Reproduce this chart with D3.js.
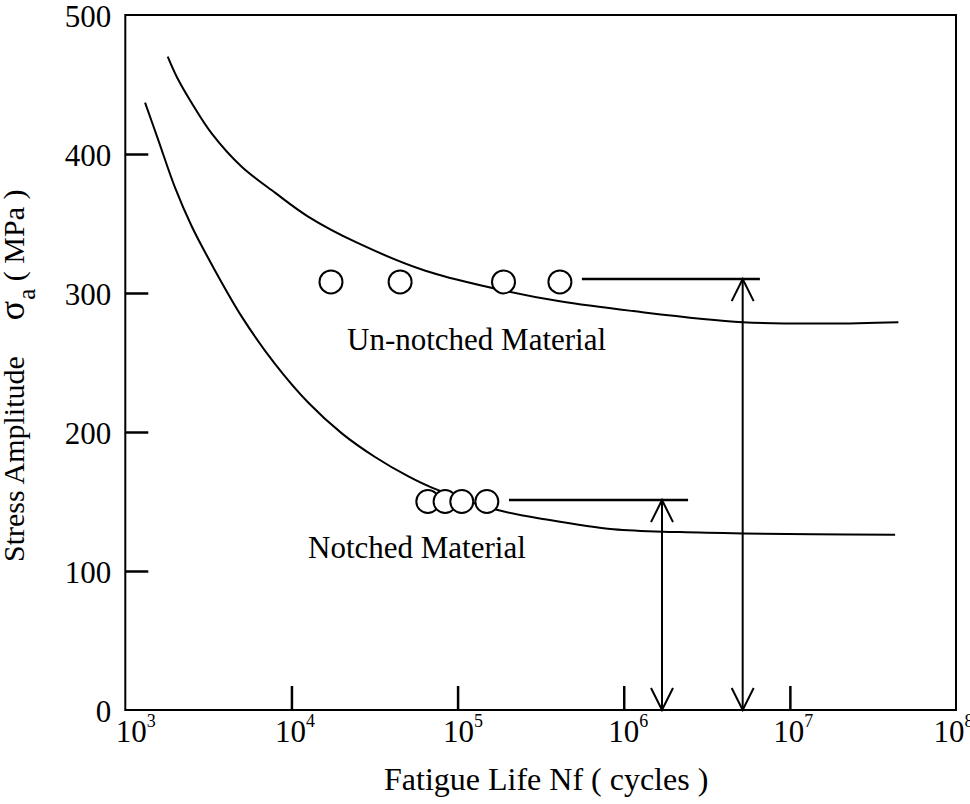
<!DOCTYPE html>
<html>
<head>
<meta charset="utf-8">
<script src="https://cdn.jsdelivr.net/npm/d3@7"></script>
<style>
  body { margin: 0; background: #fff; }
  text { font-family: "Liberation Serif", "Times New Roman", serif; fill: #000; }
</style>
</head>
<body>
<div id="chart"></div>
<script>
// ---- data (N in cycles, stress in MPa) ----
const unnotchedCurve = [
    [1800, 470], [2050, 455], [2500, 437], [3300, 415], [5000, 391],
    [8000, 372], [12600, 355], [25000, 336], [64000, 316], [157000, 304],
    [413000, 294], [1.14e6, 287], [5.2e6, 279], [1.7e7, 278], [4.5e7, 279]
];
const notchedCurve = [
    [1315, 437], [1580, 410], [1990, 376], [2510, 348], [3160, 325],
    [5020, 283], [7960, 249], [12650, 221], [20100, 199], [31850, 182],
    [50600, 168], [70000, 160], [172000, 144], [344000, 137], [867000, 130],
    [2.19e6, 128], [5.26e6, 127], [1.38e7, 126.4], [4.3e7, 126]
];
const unnotchedPoints = [17300, 45100, 189000, 413000];
const unnotchedStress = 308;
const notchedPoints = [66200, 84100, 106000, 150000];
const notchedStress = 150;

// run-out (fatigue limit) markers
const runoutFrom   = [560000, 204000];
const runoutTo     = [6.6e6, 2.44e6];
const runoutStress = [310, 151];
const runoutArrow  = [5.2e6, 1.7e6];

const xTicks = [1e3, 1e4, 1e5, 1e6, 1e7, 1e8];
const yTicks = [0, 100, 200, 300, 400, 500];

// ---- layout ----
const W = 970, H = 804;
const margin = { top: 15, right: 14, bottom: 94, left: 125.3 };

const svg = d3.select("#chart").append("svg")
    .attr("width", W)
    .attr("height", H);

const x = d3.scaleLog()
    .domain([1e3, 1e8])
    .range([margin.left, W - margin.right]);

const y = d3.scaleLinear()
    .domain([0, 500])
    .range([H - margin.bottom, margin.top]);

// ---- axes ----
const yAxis = svg.append("g")
    .attr("transform", `translate(${margin.left},0)`)
    .call(d3.axisLeft(y).tickValues(yTicks).tickSizeInner(-23).tickSizeOuter(0).tickPadding(14));
yAxis.select(".domain").remove();
yAxis.selectAll(".tick line").attr("stroke", "#000").attr("stroke-width", 2.5)
    .filter(d => d === 0 || d === 500).remove();
yAxis.selectAll(".tick text")
    .attr("dy", "0.38em")
    .style("font-size", "31px")
    .style("font-family", "Liberation Serif");

// hand-placed looking labels: "10" sits a little left of each tick
const labelShift = [-10, -17, -15, -16, -17, -23];

const xAxis = svg.append("g")
    .attr("transform", `translate(0,${H - margin.bottom})`)
    .call(d3.axisBottom(x).tickValues(xTicks).tickSizeInner(-24).tickSizeOuter(0).tickPadding(10).tickFormat(""));
xAxis.select(".domain").remove();
xAxis.selectAll(".tick line").attr("stroke", "#000").attr("stroke-width", 2.5)
    .filter(d => d === 1e3 || d === 1e8).remove();
xAxis.selectAll(".tick text").each(function(d, i) {
    const t = d3.select(this)
        .attr("text-anchor", "start")
        .attr("x", labelShift[i])
        .attr("y", 32)
        .attr("dy", null)
        .style("font-size", "31px")
        .style("font-family", "Liberation Serif");
    t.text("");
    t.append("tspan").text("10");
    t.append("tspan")
        .attr("dy", -15)
        .style("font-size", "18px")
        .text(Math.round(Math.log10(d)));
});

// frame
svg.append("rect")
    .attr("x", margin.left)
    .attr("y", margin.top)
    .attr("width", W - margin.right - margin.left)
    .attr("height", H - margin.bottom - margin.top)
    .attr("fill", "none")
    .attr("stroke", "#000")
    .attr("stroke-width", 2);

// ---- curves ----
const line = d3.line()
    .x(d => x(d[0]))
    .y(d => y(d[1]))
    .curve(d3.curveCatmullRom.alpha(0.5));

[unnotchedCurve, notchedCurve].forEach(data => {
    svg.append("path")
        .datum(data)
        .attr("fill", "none")
        .attr("stroke", "#000")
        .attr("stroke-width", 2)
        .attr("d", line);
});

// ---- data points ----
function drawPoints(ns, s) {
    svg.append("g")
        .selectAll("circle")
        .data(ns)
        .enter()
        .append("circle")
        .attr("cx", d => x(d))
        .attr("cy", y(s))
        .attr("r", 11.5)
        .attr("fill", "#fff")
        .attr("stroke", "#000")
        .attr("stroke-width", 2);
}
drawPoints(unnotchedPoints, unnotchedStress);
drawPoints(notchedPoints, notchedStress);

// ---- run-out lines + double arrows ----
const ah = 22, aw = 11;
runoutStress.forEach((s, i) => {
    const g = svg.append("g").attr("stroke", "#000").attr("fill", "none");
    g.append("line")
        .attr("x1", x(runoutFrom[i])).attr("x2", x(runoutTo[i]))
        .attr("y1", y(s)).attr("y2", y(s))
        .attr("stroke-width", 2.5);
    const ax = x(runoutArrow[i]), top = y(s), bot = y(0);
    g.append("line")
        .attr("x1", ax).attr("x2", ax)
        .attr("y1", top).attr("y2", bot)
        .attr("stroke-width", 2);
    g.append("path")
        .attr("stroke-width", 2)
        .attr("d", `M${ax - aw},${top + ah}L${ax},${top}L${ax + aw},${top + ah}`);
    g.append("path")
        .attr("stroke-width", 2)
        .attr("d", `M${ax - aw},${bot - ah}L${ax},${bot}L${ax + aw},${bot - ah}`);
});

// ---- labels ----
svg.append("text")
    .attr("x", 347)
    .attr("y", 350)
    .style("font-size", "31px")
    .text("Un-notched Material");

svg.append("text")
    .attr("x", 308)
    .attr("y", 558)
    .style("font-size", "31px")
    .text("Notched Material");

// axis titles
svg.append("text")
    .attr("x", 384)
    .attr("y", 790)
    .style("font-size", "32px")
    .text("Fatigue Life Nf ( cycles )");

const yt = svg.append("text")
    .attr("transform", "translate(24,562) rotate(-90)")
    .style("font-size", "30px");
yt.append("tspan").text("Stress Amplitude");
yt.append("tspan").attr("dx", 36).style("font-size", "36px").text("σ");
yt.append("tspan").attr("dx", 1).attr("dy", 11).style("font-size", "25px").text("a");
yt.append("tspan").attr("dy", -11).text(" ( MPa )");
</script>
</body>
</html>
